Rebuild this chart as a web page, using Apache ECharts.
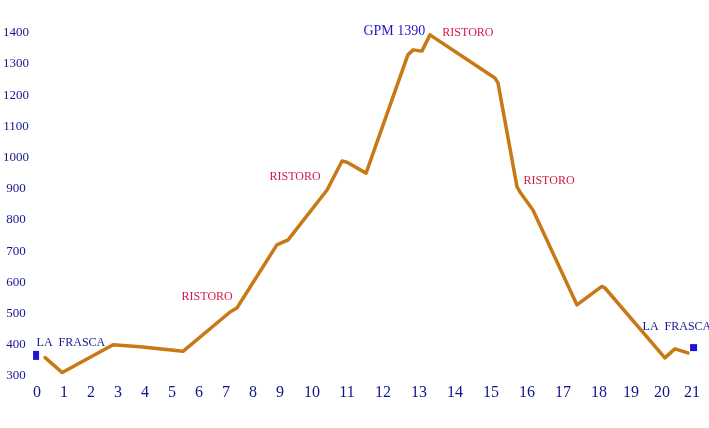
<!DOCTYPE html>
<html>
<head>
<meta charset="utf-8">
<script src="https://cdn.jsdelivr.net/npm/echarts@6/dist/echarts.min.js"></script>
<style>html,body{margin:0;padding:0;background:#fff}#c{width:709px;height:428px}</style>
</head>
<body>
<div id="c"></div>
<script>
// Profile points: [distance along drawing, altitude m]
var profileX = [0.26, 0.81, 2.44, 3.30, 4.68, 6.19, 6.41, 7.69, 8.05, 9.30, 9.78, 9.94, 10.55, 11.89, 12.06, 12.34, 12.60, 14.68, 14.78, 15.39, 15.49, 15.90, 17.31, 18.11, 18.21, 20.13, 20.45, 20.87];
var profileY = [359, 311, 400, 394, 379, 505, 518, 720, 736, 896, 989, 985, 950, 1329, 1345, 1341, 1393, 1255, 1239, 906, 889, 832, 528, 587, 582, 358, 387, 374];

// km tick labels and where they sit along the drawing
var xTickLabels = ['0','1','2','3','4','5','6','7','8','9','10','11','12','13','14','15','16','17','18','19','20','21'];
var xTickPos = [0, 0.866, 1.731, 2.597, 3.463, 4.328, 5.194, 6.060, 6.926, 7.791, 8.817, 9.939, 11.093, 12.247, 13.402, 14.556, 15.710, 16.864, 18.018, 19.044, 20.038, 21];

// Start / finish markers
var markerX = [-0.03, 21.05];
var markerY = [366, 391];

// Annotations
var noteText = ['LA  FRASCA', 'LA  FRASCA', 'GPM 1390', 'RISTORO', 'RISTORO', 'RISTORO', 'RISTORO'];
var noteX = [-0.03, 19.40, 10.45, 12.98, 7.44, 4.62, 15.58];
var noteY = [406, 457, 1405, 1399, 938, 553, 925];
var noteKind = ['place', 'place', 'peak', 'food', 'food', 'food', 'food'];

var kindColor = { place: '#15188a', peak: '#2318c8', food: '#d41a48' };
var kindSize = { place: 12, peak: 14, food: 12 };

var lineData = profileX.map(function (x, i) { return [x, profileY[i]]; });
var markerData = [
  { value: [markerX[0], markerY[0]], symbolSize: [6, 9] },
  { value: [markerX[1], markerY[1]], symbolSize: [7, 7] }
];
var noteData = noteText.map(function (t, i) {
  return {
    value: [noteX[i], noteY[i]],
    label: {
      show: true, formatter: t, position: 'right', distance: 0,
      color: kindColor[noteKind[i]], fontSize: kindSize[noteKind[i]],
      fontFamily: 'Liberation Serif'
    }
  };
});

var chart = echarts.init(document.getElementById('c'), null, { renderer: 'canvas' });
chart.setOption({
  backgroundColor: '#ffffff',
  animation: false,
  grid: { left: 37, right: 17, top: 32.7, bottom: 52, containLabel: false },
  xAxis: {
    type: 'value', min: 0, max: 21,
    axisLine: { show: false }, axisTick: { show: false }, splitLine: { show: false },
    axisLabel: {
      customValues: xTickPos,
      formatter: function (v) {
        for (var i = 0; i < xTickPos.length; i++) {
          if (Math.abs(xTickPos[i] - v) < 1e-6) return xTickLabels[i];
        }
        return '';
      },
      color: '#10148c', fontSize: 16, fontFamily: 'Liberation Serif', margin: 9,
      showMinLabel: true, showMaxLabel: true, hideOverlap: false
    }
  },
  yAxis: {
    type: 'value', min: 300, max: 1400, interval: 100,
    axisLine: { show: false }, axisTick: { show: false }, splitLine: { show: false },
    axisLabel: {
      formatter: function (v) { return String(v); },
      color: '#15188a', fontSize: 13, fontFamily: 'Liberation Serif',
      align: 'center', margin: 21
    }
  },
  series: [
    {
      type: 'line', data: lineData, showSymbol: false, symbol: 'none',
      lineStyle: { color: '#c87814', width: 3.5, join: 'round', cap: 'round' },
      clip: false, silent: true
    },
    {
      type: 'scatter', data: markerData, symbol: 'rect',
      itemStyle: { color: '#1c14d8', opacity: 1 }, clip: false, silent: true
    },
    {
      type: 'scatter', data: noteData, symbolSize: 1, clip: false, silent: true,
      itemStyle: { color: 'rgba(255,255,255,0)', opacity: 1 }
    }
  ]
});
</script>
</body>
</html>
